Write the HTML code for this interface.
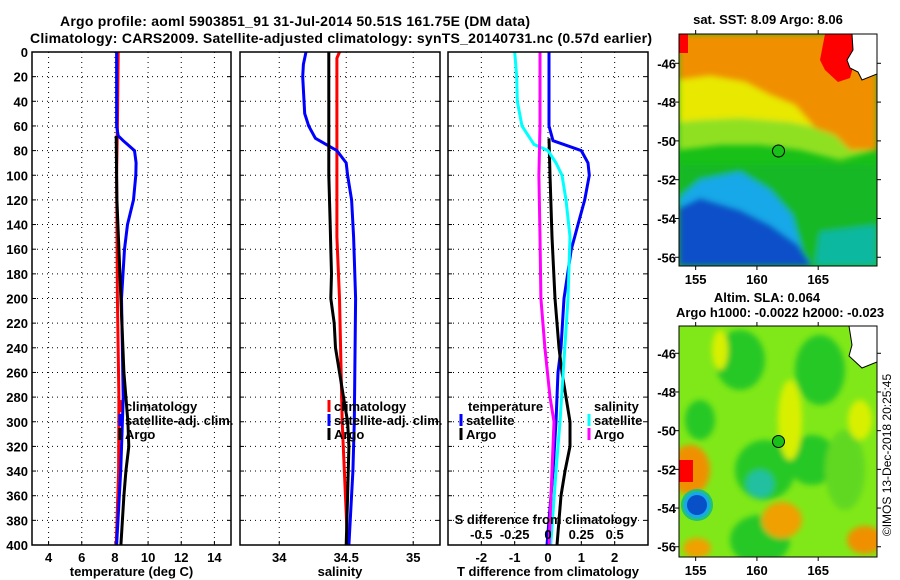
<!DOCTYPE html>
<html><head><meta charset="utf-8">
<style>
body{margin:0;background:#fff;}
svg{display:block;font-family:"Liberation Sans",sans-serif;font-weight:bold;}
text{font-size:13px;fill:#000;}
</style></head>
<body>
<svg id="c" width="900" height="580" viewBox="0 0 900 580">
<defs>
<filter id="bl" x="-10%" y="-10%" width="120%" height="120%"><feGaussianBlur stdDeviation="3"/></filter>
<clipPath id="m1c"><rect x="679" y="34" width="198" height="232"/></clipPath>
<clipPath id="m2c"><rect x="679" y="326" width="198" height="231"/></clipPath>
</defs>
<text x="60" y="26" textLength="470" lengthAdjust="spacing" style="font-size:14px">Argo profile: aoml 5903851_91 31-Jul-2014 50.51S 161.75E (DM data)</text>
<text x="30" y="43" textLength="622" lengthAdjust="spacing" style="font-size:14px">Climatology: CARS2009. Satellite-adjusted climatology: synTS_20140731.nc (0.57d earlier)</text>

<!-- Map 1: SST -->
<g clip-path="url(#m1c)">
<rect x="679" y="34" width="198" height="232" fill="#18c018"/>
<g filter="url(#bl)">
<polygon points="679,34 877,34 877,150 840,160 800,150 760,145 720,145 679,150" fill="#90e020"/>
<polygon points="679,34 877,34 877,130 830,130 790,122 740,118 700,120 679,122" fill="#e8e800"/>
<polygon points="679,34 877,34 877,150 850,150 835,135 815,128 795,105 770,95 745,82 710,76 679,80" fill="#f09000"/>
<polygon points="679,165 877,165 877,266 679,266" fill="#18b828"/>
<polygon points="679,198 700,180 740,172 770,190 792,215 802,250 792,266 679,266" fill="#18a8e8"/>
<polygon points="679,208 700,198 740,210 770,225 798,245 812,266 679,266" fill="#0850c8"/>
<polygon points="820,232 877,225 877,266 815,266" fill="#10b8a0"/>
</g>
<polygon points="679,34 688,34 688,53 679,53" fill="#ff0000"/>
<polygon points="825,34 858,34 855,60 850,78 838,82 825,70 820,60" fill="#ff0000"/>
<polygon points="852,34 877,34 877,74 862,80 858,72 850,68 847,60 853,50" fill="#fff" stroke="#000" stroke-width="1"/>
<circle cx="778.5" cy="151" r="6" fill="#18c018" stroke="#000" stroke-width="1"/>
</g>
<rect x="679" y="34" width="198" height="232" fill="none" stroke="#000"/>
<text x="768" y="24" text-anchor="middle">sat. SST: 8.09 Argo: 8.06</text>

<!-- Map 2: SLA -->
<g clip-path="url(#m2c)">
<rect x="679" y="326" width="198" height="231" fill="#80e818"/>
<g filter="url(#bl)">
<ellipse cx="740" cy="360" rx="25" ry="30" fill="#28c828"/>
<ellipse cx="820" cy="370" rx="25" ry="35" fill="#28c828"/>
<ellipse cx="700" cy="420" rx="15" ry="20" fill="#28c828"/>
<ellipse cx="765" cy="470" rx="30" ry="30" fill="#28c828"/>
<ellipse cx="760" cy="484" rx="14" ry="14" fill="#20c0a0"/>
<ellipse cx="812" cy="460" rx="25" ry="25" fill="#28c828"/>
<ellipse cx="760" cy="540" rx="30" ry="25" fill="#28c828"/>
<ellipse cx="845" cy="470" rx="20" ry="40" fill="#60d820"/>
<ellipse cx="790" cy="420" rx="12" ry="40" fill="#d8f000"/>
<ellipse cx="720" cy="350" rx="8" ry="20" fill="#d8f000"/>
<ellipse cx="860" cy="420" rx="12" ry="20" fill="#d8f000"/>
<ellipse cx="690" cy="470" rx="20" ry="25" fill="#f09000"/>
<ellipse cx="782" cy="520" rx="20" ry="18" fill="#f0a000"/>
<ellipse cx="865" cy="540" rx="18" ry="14" fill="#f09000"/>
<ellipse cx="697" cy="548" rx="14" ry="10" fill="#f0a000"/>
</g>
<rect x="679" y="460" width="14" height="22" fill="#ff0000"/>
<circle cx="697" cy="505" r="16" fill="#20c080"/>
<circle cx="697" cy="505" r="13" fill="#18a8e8"/>
<circle cx="697" cy="505" r="10" fill="#0850c8"/>
<polygon points="849,326 877,326 877,362 862,368 849,356 852,345" fill="#fff" stroke="#000" stroke-width="1"/>
<circle cx="778.5" cy="441.5" r="6" fill="#18c018" stroke="#000" stroke-width="1"/>
</g>
<rect x="679" y="326" width="198" height="231" fill="none" stroke="#000"/>
<text x="767" y="302" text-anchor="middle">Altim. SLA: 0.064</text>
<text x="780" y="317" text-anchor="middle">Argo h1000: -0.0022 h2000: -0.023</text>
<text x="891" y="455" text-anchor="middle" transform="rotate(-90 891 455)" style="font-weight:normal;font-size:12px">©IMOS 13-Dec-2018 20:25:45</text>
</svg>
<script>
// ---------- data ----------
const depthTicks = [0,20,40,60,80,100,120,140,160,180,200,220,240,260,280,300,320,340,360,380,400];
const tempTicks = [4,6,8,10,12,14];
const salTicks = [34,34.5,35];
const salTickLabels = ['34','34.5','35'];
const tdiffTicks = [-2,-1,0,1,2];
const sdiffTicks = [-0.5,-0.25,0,0.25,0.5];
const sdiffTickLabels = ['-0.5','-0.25','0','0.25','0.5'];
const lonTicks = [155,160,165];
const latTicks = [-46,-48,-50,-52,-54,-56];

const tClimDepth = [0,60,100,200,280,340,400];
const tClimVal   = [8.2,8.15,8.1,8.15,8.24,8.22,8.08];
const tSatDepth = [0,60,68,72,80,90,100,120,140,160,200,280,300,340,400];
const tSatVal   = [8.1,8.1,8.2,8.5,9.18,9.28,9.26,9.12,8.76,8.58,8.4,8.5,8.45,8.35,8.1];
const tArgoDepth = [68,100,120,160,200,260,280,300,320,340,360,400];
const tArgoVal   = [8.08,8.1,8.12,8.24,8.36,8.54,8.66,8.78,8.84,8.66,8.54,8.36];

const sClimDepth = [0,5,20,150,200,300,400];
const sClimVal   = [34.45,34.43,34.43,34.43,34.45,34.47,34.51];
const sSatDepth = [0,10,20,50,60,70,75,80,90,100,120,150,200,300,340,400];
const sSatVal   = [34.2,34.18,34.175,34.19,34.22,34.27,34.35,34.43,34.5,34.51,34.54,34.555,34.57,34.56,34.55,34.52];
const sArgoDepth = [0,100,120,140,160,180,200,220,240,260,280,300,320,360,400];
const sArgoVal   = [34.37,34.37,34.375,34.38,34.385,34.39,34.385,34.41,34.42,34.45,34.48,34.51,34.52,34.51,34.5];

const dTSatDepth = [0,60,72,80,90,100,120,140,150,160,200,240,260,300,340,400];
const dTSatVal   = [0.03,0.03,0.15,1.0,1.2,1.24,1.1,0.9,0.8,0.7,0.48,0.39,0.3,0.24,0.15,-0.03];
const dTArgoDepth = [70,100,150,200,240,260,280,300,320,340,360,400];
const dTArgoVal   = [0.03,0.06,0.12,0.21,0.33,0.42,0.54,0.66,0.66,0.51,0.39,0.27];
const dSSatDepth = [0,20,40,60,75,80,90,100,120,150,200,300,340,400];
const dSSatVal   = [-0.25,-0.235,-0.23,-0.195,-0.105,0,0.06,0.105,0.135,0.165,0.15,0.09,0.06,0.02];
const dSArgoDepth = [0,60,100,150,200,240,280,300,340,400];
const dSArgoVal   = [-0.06,-0.06,-0.068,-0.06,-0.053,-0.023,0.015,0.045,0.03,0.008];

// ---------- layout ----------
const svg = document.getElementById('c');
const NS = 'http://www.w3.org/2000/svg';
const top0 = 52, bot0 = 545;
const yD = d => top0 + d/400*(bot0-top0);
const P1 = {l:32,r:231,min:3,max:15};
const P2 = {l:240,r:440,min:33.707,max:35.2};
const P3 = {l:448,r:648,min:-3,max:3};
const sx = (p,v) => p.l + (v-p.min)/(p.max-p.min)*(p.r-p.l);
const sxS = v => sx(P3, v*4);

function mk(tag, attrs, parent){
  const e = document.createElementNS(NS, tag);
  for (const k in attrs) e.setAttribute(k, attrs[k]);
  (parent||svg).appendChild(e);
  return e;
}
function txt(x,y,s,anchor,parent){
  const t = mk('text',{x:x,y:y,'text-anchor':anchor||'middle'},parent);
  t.textContent = s;
  return t;
}

function panel(p, name, xticks, xlabels, xtitle, showY){
  const g = mk('g',{});
  
  
  mk('rect',{x:p.l,y:top0,width:p.r-p.l,height:bot0-top0,fill:'#fff'},g);
  depthTicks.forEach(d=>{
    if(d>0 && d<400){
      const gl = mk('line',{x1:p.l,x2:p.r,y1:yD(d),y2:yD(d),stroke:'#000','stroke-dasharray':'1,4','stroke-width':1},g);
      
      
    }
    mk('line',{x1:p.l,x2:p.l+4,y1:yD(d),y2:yD(d),stroke:'#000'},g);
    mk('line',{x1:p.r,x2:p.r-4,y1:yD(d),y2:yD(d),stroke:'#000'},g);
    if(showY){
      const t = txt(p.l-4,yD(d)+5,String(d),'end',g);
      
      
    }
  });
  xticks.forEach((v,i)=>{
    const x = sx(p,v);
    const gl = mk('line',{x1:x,x2:x,y1:top0,y2:bot0,stroke:'#000','stroke-dasharray':'1,4'},g);
    
    
    mk('line',{x1:x,x2:x,y1:bot0,y2:bot0-4,stroke:'#000'},g);
    const t = txt(x,bot0+17,xlabels[i],'middle',g);
    
    
  });
  const tt = txt((p.l+p.r)/2,bot0+31,xtitle,'middle',g);
  
  
  return g;
}
function series(depths, vals, fx, color, name, parent){
  const pts = depths.map((d,i)=>fx(vals[i]).toFixed(1)+','+yD(d).toFixed(1)).join(' ');
  const pl = mk('polyline',{points:pts,fill:'none',stroke:color,'stroke-width':3},parent);
  
  
}
function frame(p,parent){ mk('rect',{x:p.l,y:top0,width:p.r-p.l,height:bot0-top0,fill:'none',stroke:'#000','stroke-width':1.5},parent); }
function legendEntry(x,y,color,label,parent){
  const g = mk('g',{},parent);
  
  
  mk('line',{x1:x,x2:x,y1:y-11,y2:y+1,stroke:color,'stroke-width':3},g);
  txt(x+5,y,label,'start',g);
}

// panel 1
const g1 = panel(P1,'temperature-panel',tempTicks,tempTicks.map(String),'temperature (deg C)',true);
series(tClimDepth,tClimVal,v=>sx(P1,v),'#ff0000','temp-climatology-line',g1);
series(tSatDepth,tSatVal,v=>sx(P1,v),'#0000ff','temp-satellite-line',g1);
series(tArgoDepth,tArgoVal,v=>sx(P1,v),'#000','temp-argo-line',g1);
legendEntry(120,411,'#ff0000','climatology',g1);
legendEntry(120,425,'#0000ff','satellite-adj. clim.',g1);
legendEntry(120,439,'#000','Argo',g1);
frame(P1,g1);

// panel 2
const g2 = panel(P2,'salinity-panel',salTicks,salTickLabels,'salinity',false);
series(sClimDepth,sClimVal,v=>sx(P2,v),'#ff0000','sal-climatology-line',g2);
series(sSatDepth,sSatVal,v=>sx(P2,v),'#0000ff','sal-satellite-line',g2);
series(sArgoDepth,sArgoVal,v=>sx(P2,v),'#000','sal-argo-line',g2);
legendEntry(329,411,'#ff0000','climatology',g2);
legendEntry(329,425,'#0000ff','satellite-adj. clim.',g2);
legendEntry(329,439,'#000','Argo',g2);
frame(P2,g2);

// panel 3
const g3 = panel(P3,'difference-panel',tdiffTicks,tdiffTicks.map(String),'T difference from climatology',false);
series(dTSatDepth,dTSatVal,v=>sx(P3,v),'#0000ff','tdiff-satellite-line',g3);
series(dTArgoDepth,dTArgoVal,v=>sx(P3,v),'#000','tdiff-argo-line',g3);
series(dSSatDepth,dSSatVal,sxS,'#00ffff','sdiff-satellite-line',g3);
series(dSArgoDepth,dSArgoVal,sxS,'#ff00ff','sdiff-argo-line',g3);
const lt = txt(468,411,'temperature','start',g3);


legendEntry(461,425,'#0000ff','satellite',g3);
legendEntry(461,439,'#000','Argo',g3);
const ls = txt(594,411,'salinity','start',g3);


legendEntry(589,425,'#00ffff','satellite',g3);
legendEntry(589,439,'#ff00ff','Argo',g3);
const st = txt(546,524,'S difference from climatology','middle',g3);


sdiffTicks.forEach((v,i)=>{
  const t = txt(sxS(v),539,sdiffTickLabels[i],'middle',g3);
  
  
});
frame(P3,g3);

// map axes
function mapAxes(m, name){
  const g = mk('g',{});
  
  
  const mx = v => m.l + (v-m.lon0)/(m.lon1-m.lon0)*(m.r-m.l);
  const my = v => m.t + (m.lat0-v)/(m.lat0-m.lat1)*(m.b-m.t);
  lonTicks.forEach(v=>{
    mk('line',{x1:mx(v),x2:mx(v),y1:m.b,y2:m.b+4,stroke:'#000'},g);
    mk('line',{x1:mx(v),x2:mx(v),y1:m.t,y2:m.t-4,stroke:'#000'},g);
    if(m.labels){ const t = txt(mx(v),m.b+18,String(v),'middle',g);
      
       }
  });
  latTicks.forEach(v=>{
    mk('line',{x1:m.l,x2:m.l-4,y1:my(v),y2:my(v),stroke:'#000'},g);
    mk('line',{x1:m.r,x2:m.r+4,y1:my(v),y2:my(v),stroke:'#000'},g);
    const t = txt(m.l-3,my(v)+5,String(v),'end',g);
    
    
  });
}
mapAxes({l:679,r:877,t:34,b:266,lon0:153.64,lon1:169.8,lat0:-44.49,lat1:-56.45,labels:true},'sst-map-axes');
mapAxes({l:679,r:877,t:326,b:557,lon0:153.64,lon1:169.8,lat0:-44.59,lat1:-56.53,labels:true},'sla-map-axes');
</script>
</body></html>
